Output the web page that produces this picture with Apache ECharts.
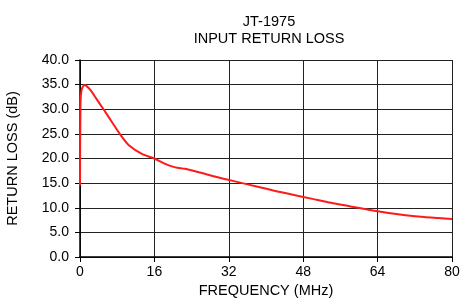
<!DOCTYPE html>
<html>
<head>
<meta charset="utf-8">
<script src="https://cdn.jsdelivr.net/npm/echarts@6/dist/echarts.min.js"></script>
<style>html,body{margin:0;padding:0;background:#fff}#c{width:472px;height:305px}</style>
</head>
<body>
<div id="c"></div>
<script>
var titleLines = ['JT-1975', 'INPUT RETURN LOSS'];
var xName = 'FREQUENCY (MHz)';
var yName = 'RETURN LOSS (dB)';
var freq = [0, 0.1, 0.36, 0.92, 1.42, 2.35, 3.4, 5.2, 7.0, 8.7, 10.5, 13.4, 16, 18.3, 20.5, 22.6, 26, 30, 34, 38, 42, 46, 50, 54, 58, 62, 66, 70, 74, 77, 80];
var loss = [14.5, 31, 34.0, 34.9, 34.7, 33.8, 32.3, 29.8, 27.2, 24.8, 22.7, 20.9, 20.0, 18.9, 18.2, 17.9, 17.1, 16.1, 15.2, 14.3, 13.4, 12.6, 11.8, 11.0, 10.3, 9.6, 9.0, 8.5, 8.1, 7.9, 7.7];
var data = freq.map(function(f, i){ return [f, loss[i]]; });
var chart = echarts.init(document.getElementById('c'));
var font = 'Liberation Sans, Arial, sans-serif';
chart.setOption({
  animation: false,
  title: {
    text: titleLines.join('\n'),
    left: 264, top: 8, textAlign: 'center',
    textStyle: {fontFamily: font, fontSize: 14.5, fontWeight: 'normal', color: '#000', lineHeight: 17}
  },
  grid: {left: 80, right: 20, top: 60, bottom: 48, containLabel: false, outerBoundsMode: 'none'},
  xAxis: {
    type: 'value', min: 0, max: 80, interval: 16,
    name: xName, nameLocation: 'middle', nameGap: 25,
    nameTextStyle: {fontFamily: font, fontSize: 14.5, color: '#000'},
    axisLine: {show: true, lineStyle: {color: '#000', width: 1.5}},
    axisTick: {show: true, length: 5, lineStyle: {color: '#000'}},
    axisLabel: {fontFamily: font, fontSize: 14, color: '#000', margin: 8},
    splitLine: {show: true, lineStyle: {color: '#222', width: 1}}
  },
  yAxis: {
    type: 'value', min: 0, max: 40, interval: 5,
    name: yName, nameLocation: 'middle', nameGap: 60,
    nameTextStyle: {fontFamily: font, fontSize: 14.5, color: '#000'},
    axisLine: {show: true, lineStyle: {color: '#000', width: 1.5}},
    axisTick: {show: true, length: 5, lineStyle: {color: '#000'}},
    axisLabel: {fontFamily: font, fontSize: 14, color: '#000', margin: 11, formatter: function(v){ return v.toFixed(1); }},
    splitLine: {show: true, lineStyle: {color: '#222', width: 1}}
  },
  series: [{
    type: 'line', data: data, smooth: 0.25, showSymbol: false,
    lineStyle: {color: '#ff1a1a', width: 2}
  }]
});
</script>
</body>
</html>
